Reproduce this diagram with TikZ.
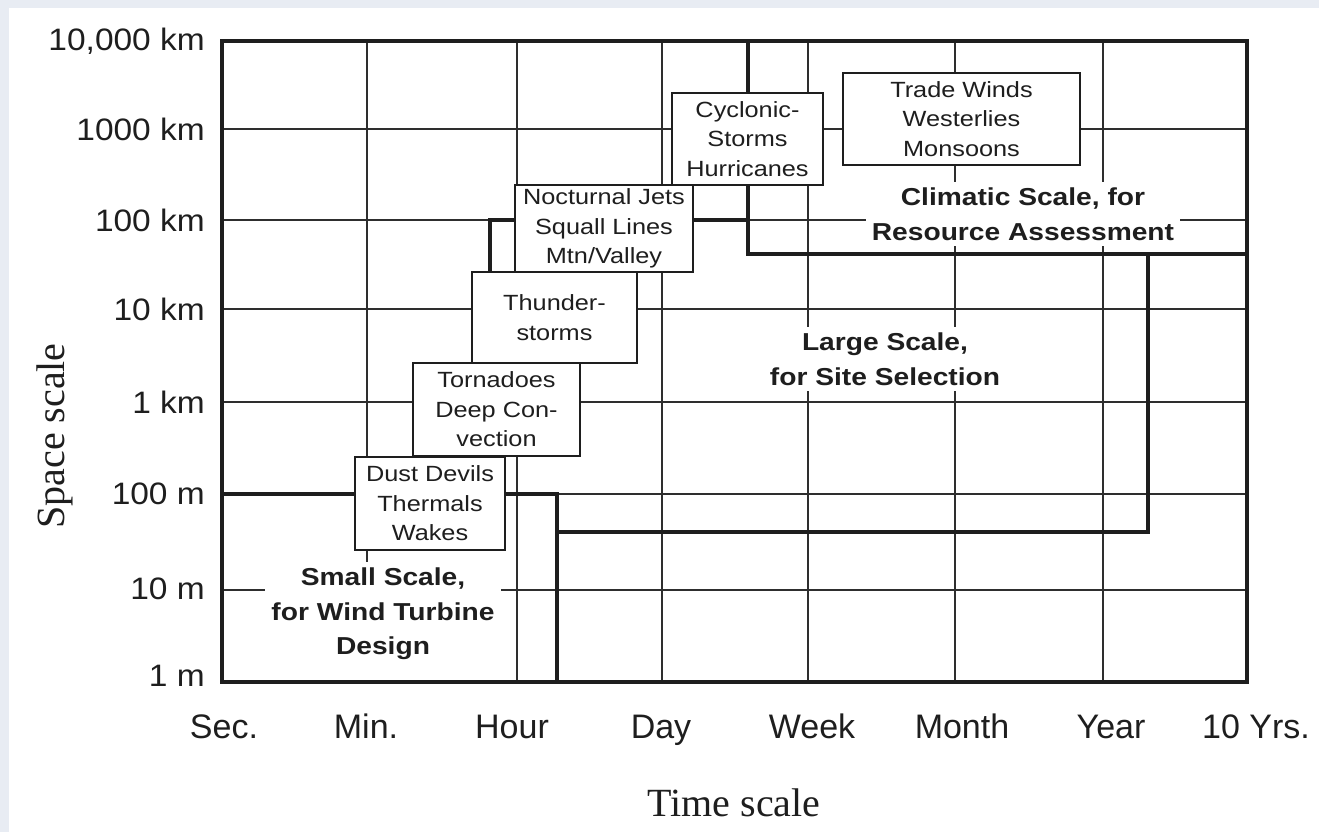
\documentclass[tikz,border=0pt]{standalone}
\usepackage{fontspec}
\setmainfont{Liberation Sans}
\newfontfamily\boxfont[FakeStretch=1.15]{Liberation Sans}
\newfontfamily\ylabfont[FakeStretch=1.08]{Liberation Sans}
\newfontfamily\regfont[FakeStretch=1.15]{Liberation Sans}
\newfontfamily\axisfont{Liberation Serif}
\definecolor{bgblue}{HTML}{E8ECF3}
\definecolor{ink}{HTML}{1E1E1E}
\definecolor{gridc}{HTML}{2E2E2E}
\tikzset{
  gridline/.style={draw=gridc, line width=1.6pt},
  regionline/.style={draw=ink, line width=3.6pt, line join=miter},
  frameline/.style={draw=ink, line width=3.6pt},
  phenom/.style={draw=ink, line width=2.8pt, fill=white, align=center, inner sep=0pt, text=ink,
                 font=\boxfont\fontsize{22pt}{29.5pt}\selectfont},
  regionlabel/.style={fill=white, align=center, inner sep=6pt, text=ink,
                 font=\regfont\bfseries\fontsize{24.5pt}{34.5pt}\selectfont},
  ylab/.style={anchor=east, inner sep=0pt, text=ink, font=\ylabfont\fontsize{31pt}{31pt}\selectfont},
  xlab/.style={anchor=base, inner sep=0pt, text=ink, font=\fontsize{34pt}{34pt}\selectfont},
  axistitle/.style={inner sep=0pt, text=ink, font=\axisfont\fontsize{40pt}{40pt}\selectfont}
}
\begin{document}
\begin{tikzpicture}[x=1pt,y=-1pt]
\useasboundingbox (0,0) rectangle (1319,832);
\fill[bgblue] (0,0) rectangle (1319,832);
\fill[white] (9,8) rectangle (1319,832);
% frame corners
\coordinate (fTL) at (222,41);
\coordinate (fBR) at (1247,682);
% grid
\foreach \yy in {129,220,309,402,494,590} \draw[gridline] (222,\yy) -- (1247,\yy);
\foreach \xx in {367,517,662,808,955,1103} \draw[gridline] (\xx,41) -- (\xx,682);
% region labels
\node[regionlabel] (climatic) at (1023,214) {Climatic Scale, for\\Resource Assessment};
\node[regionlabel] (large) at (885,359) {Large Scale,\\for Site Selection};
\node[regionlabel] (small) at (383,614) {Small Scale,\\for Wind Turbine\\Design};
\fill[white] (small.south west) rectangle (small.south east |- fBR);
% region boundaries
\coordinate (sA) at (222,494); \coordinate (sB) at (557,494); \coordinate (sC) at (557,682);
\coordinate (lA) at (557,532); \coordinate (lB) at (1148,532); \coordinate (lC) at (1148,254);
\coordinate (cA) at (1247,254); \coordinate (cB) at (748,254); \coordinate (cC) at (748,41);
\coordinate (mA) at (490,272); \coordinate (mB) at (490,220); \coordinate (mC) at (748,220);
\draw[regionline] (sA) -- (sB) -- (sC);
\draw[regionline] (lA) -- (lB) -- (lC);
\draw[regionline] (cA) -- (cB) -- (cC);
\draw[regionline] (mA) -- (mB) -- (mC);
% phenomena boxes
\node[phenom, minimum width=150pt, minimum height=93pt] (dust) at (430,503.5) {Dust Devils\\Thermals\\Wakes};
\node[phenom, minimum width=167pt, minimum height=93pt] (torn) at (496.5,409.5) {Tornadoes\\Deep Con-\\vection};
\node[phenom, minimum width=165pt, minimum height=91pt] (thun) at (554.5,317.5) {Thunder-\\storms};
\node[phenom, minimum width=178pt, minimum height=87pt] (noct) at (604,228.5) {Nocturnal Jets\\Squall Lines\\Mtn/Valley};
\node[phenom, minimum width=151pt, minimum height=92pt] (cycl) at (747.5,139) {Cyclonic-\\Storms\\Hurricanes};
\node[phenom, minimum width=237pt, minimum height=92pt] (trade) at (961.5,119) {Trade Winds\\Westerlies\\Monsoons};
% frame
\draw[frameline] (fTL) rectangle (fBR);
% y tick labels
\node[ylab] (y1) at (205,41) {10,000 km};
\node[ylab] (y2) at (205,129) {1000 km};
\node[ylab] (y3) at (205,220) {100 km};
\node[ylab] (y4) at (205,309) {10 km};
\node[ylab] (y5) at (205,402) {1 km};
\node[ylab] (y6) at (205,494) {100 m};
\node[ylab] (y7) at (205,589) {10 m};
\node[ylab] (y8) at (205,676) {1 m};
% x tick labels
\node[xlab] (x1) at (224,738) {Sec.};
\node[xlab] (x2) at (366,738) {Min.};
\node[xlab] (x3) at (512,738) {Hour};
\node[xlab] (x4) at (661,738) {Day};
\node[xlab] (x5) at (812,738) {Week};
\node[xlab] (x6) at (962,738) {Month};
\node[xlab] (x7) at (1111,738) {Year};
\node[xlab] (x8) at (1256,738) {10 Yrs.};
% axis titles
\node[axistitle] (tt) at (734,803) {Time scale};
\node[axistitle, rotate=90] (st) at (55,436) {Space scale};
\end{tikzpicture}
\end{document}
